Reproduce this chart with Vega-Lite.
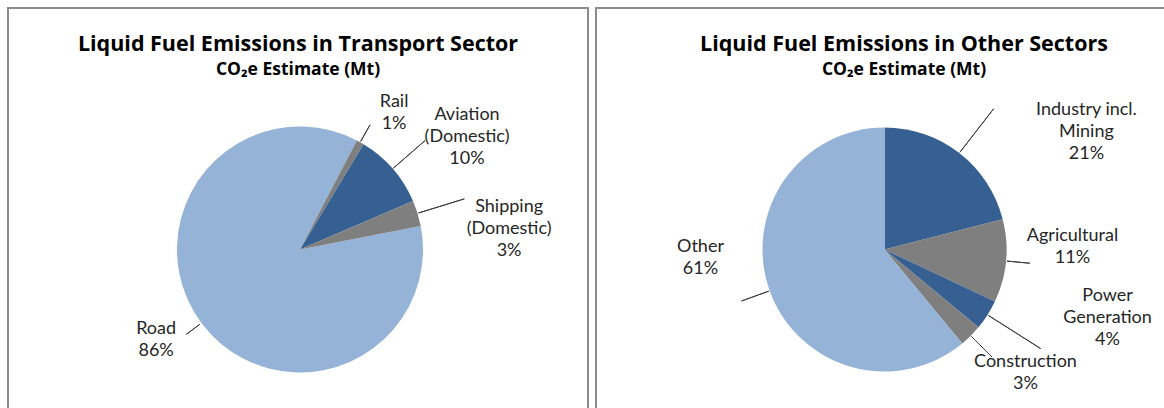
{
  "$schema": "https://vega.github.io/schema/vega-lite/v6.json",
  "padding": {"left": 7, "top": 7, "right": 0, "bottom": 0},
  "autosize": {"type": "pad"},
  "background": "white",
  "spacing": 6,
  "config": {
    "font": "Lato",
    "view": {"stroke": null},
    "text": {"font": "Lato", "fontSize": 18, "color": "#262626", "lineHeight": 22, "lineBreak": "\n", "align": "center", "baseline": "middle"}
  },
  "datasets": {
    "transport": [
      {"idx": 1, "sector": "Road", "value": 85.7, "label": "Road\n86%"},
      {"idx": 2, "sector": "Rail", "value": 1.0, "label": "Rail\n1%"},
      {"idx": 3, "sector": "Aviation (Domestic)", "value": 9.9, "label": "Aviation\n(Domestic)\n10%"},
      {"idx": 4, "sector": "Shipping (Domestic)", "value": 3.4, "label": "Shipping\n(Domestic)\n3%"}
    ],
    "other": [
      {"idx": 1, "sector": "Industry incl. Mining", "value": 21, "label": "Industry incl.\nMining\n21%"},
      {"idx": 2, "sector": "Agricultural", "value": 11, "label": "Agricultural\n11%"},
      {"idx": 3, "sector": "Power Generation", "value": 4, "label": "Power\nGeneration\n4%"},
      {"idx": 4, "sector": "Construction", "value": 3, "label": "Construction\n3%"},
      {"idx": 5, "sector": "Other", "value": 61, "label": "Other\n61%"}
    ]
  },
  "resolve": {"scale": {"theta": "independent", "color": "independent"}},
  "hconcat": [
    {
      "width": 580,
      "height": 400,
      "view": {"stroke": "#8c8c8c", "strokeWidth": 2, "strokeDash": [980, 580, 420]},
      "title": {
        "text": "Liquid Fuel Emissions in Transport Sector",
        "subtitle": "CO₂e Estimate (Mt)",
        "offset": -70,
        "anchor": "middle",
        "font": "Open Sans", "fontSize": 21.5, "fontWeight": "bold", "color": "#000000",
        "subtitleFont": "Open Sans", "subtitleFontSize": 17.5, "subtitleFontWeight": "bold", "subtitleColor": "#000000",
        "subtitlePadding": 5
      },
      "data": {"name": "transport"},
      "resolve": {"scale": {"theta": "independent"}},
      "encoding": {
        "theta": {"field": "value", "type": "quantitative", "stack": true, "scale": {"range": [1.3788, 7.6620]}},
        "order": {"field": "idx", "type": "quantitative"}
      },
      "layer": [
        {
          "mark": {"type": "arc", "radius": 123, "xOffset": 2, "yOffset": 41.5},
          "encoding": {
            "color": {"field": "sector", "type": "nominal", "legend": null,
              "scale": {"domain": ["Road", "Rail", "Aviation (Domestic)", "Shipping (Domestic)"], "range": ["#95B3D7", "#7F7F7F", "#376092", "#7F7F7F"]}}
          }
        },
        {
          "mark": {"type": "arc", "clip": true, "radius": 143, "radius2": 124, "padAngle": 3.2, "fill": null, "fillOpacity": 0, "stroke": "#404040", "strokeWidth": 1, "xOffset": 2, "yOffset": 41.5},
          "encoding": {"strokeOpacity": {"condition": {"test": "datum.sector === 'Rail'", "value": 1}, "value": 0}}
        },
        {
          "mark": {"type": "arc", "clip": true, "radius": 166, "radius2": 124, "padAngle": 3.2, "fill": null, "fillOpacity": 0, "stroke": "#404040", "strokeWidth": 1, "xOffset": 2, "yOffset": 41.5},
          "encoding": {"strokeOpacity": {"condition": {"test": "datum.sector === 'Aviation (Domestic)'", "value": 1}, "value": 0}}
        },
        {
          "mark": {"type": "arc", "clip": true, "radius": 172, "radius2": 124, "padAngle": 3.2, "fill": null, "fillOpacity": 0, "stroke": "#404040", "strokeWidth": 1, "xOffset": 2, "yOffset": 41.5},
          "encoding": {"strokeOpacity": {"condition": {"test": "datum.sector === 'Shipping (Domestic)'", "value": 1}, "value": 0}}
        },
        {
          "mark": {"type": "arc", "clip": true, "radius": 142, "radius2": 125, "padAngle": 3.2, "fill": null, "fillOpacity": 0, "stroke": "#404040", "strokeWidth": 1, "xOffset": 2, "yOffset": 41.5},
          "encoding": {
            "theta": {"field": "value", "type": "quantitative", "stack": true, "scale": {"domain": [0, 200], "range": [2.7249, 9.0081]}},
            "strokeOpacity": {"condition": {"test": "datum.sector === 'Road'", "value": 1}, "value": 0}
          }
        },
        {
          "mark": {"type": "text", "clip": true, "radius": 166, "dx": 12.8, "dy": -3.2, "xOffset": 2, "yOffset": 41.5},
          "encoding": {"text": {"condition": {"test": "datum.sector === 'Rail'", "field": "label"}, "value": ""}}
        },
        {
          "mark": {"type": "text", "clip": true, "radius": 201.6, "dx": 15, "dy": -2.5, "xOffset": 2, "yOffset": 41.5},
          "encoding": {"text": {"condition": {"test": "datum.sector === 'Aviation (Domestic)'", "field": "label"}, "value": ""}}
        },
        {
          "mark": {"type": "text", "clip": true, "radius": 210, "dx": 8.4, "dy": 19.2, "xOffset": 2, "yOffset": 41.5},
          "encoding": {"text": {"condition": {"test": "datum.sector === 'Shipping (Domestic)'", "field": "label"}, "value": ""}}
        },
        {
          "mark": {"type": "text", "clip": true, "radius": 169.8, "dx": -7.8, "dy": -22.5, "xOffset": 2, "yOffset": 41.5},
          "encoding": {"text": {"condition": {"test": "datum.sector === 'Road'", "field": "label"}, "value": ""}}
        }
      ]
    },
    {
      "width": 570,
      "height": 400,
      "view": {"stroke": "#8c8c8c", "strokeWidth": 2, "strokeDash": [570, 970, 420]},
      "title": {
        "text": "Liquid Fuel Emissions in Other Sectors",
        "subtitle": "CO₂e Estimate (Mt)",
        "offset": -70,
        "anchor": "middle",
        "dx": 23,
        "font": "Open Sans", "fontSize": 21.5, "fontWeight": "bold", "color": "#000000",
        "subtitleFont": "Open Sans", "subtitleFontSize": 17.5, "subtitleFontWeight": "bold", "subtitleColor": "#000000",
        "subtitlePadding": 5
      },
      "data": {"name": "other"},
      "resolve": {"scale": {"theta": "independent"}},
      "encoding": {
        "theta": {"field": "value", "type": "quantitative", "stack": true, "scale": {"range": [0, 6.2832]}},
        "order": {"field": "idx", "type": "quantitative"}
      },
      "layer": [
        {
          "mark": {"type": "arc", "radius": 122, "xOffset": 3.5, "yOffset": 41.5},
          "encoding": {
            "color": {"field": "sector", "type": "nominal", "legend": null,
              "scale": {"domain": ["Industry incl. Mining", "Agricultural", "Power Generation", "Construction", "Other"], "range": ["#376092", "#7F7F7F", "#376092", "#7F7F7F", "#95B3D7"]}}
          }
        },
        {
          "mark": {"type": "arc", "clip": true, "radius": 178, "radius2": 123, "padAngle": 3.2, "fill": null, "fillOpacity": 0, "stroke": "#404040", "strokeWidth": 1, "xOffset": 3.5, "yOffset": 41.5},
          "encoding": {"strokeOpacity": {"condition": {"test": "datum.sector === 'Industry incl. Mining'", "value": 1}, "value": 0}}
        },
        {
          "mark": {"type": "arc", "clip": true, "radius": 146, "radius2": 123, "padAngle": 3.2, "fill": null, "fillOpacity": 0, "stroke": "#404040", "strokeWidth": 1, "xOffset": 3.5, "yOffset": 41.5},
          "encoding": {"strokeOpacity": {"condition": {"test": "datum.sector === 'Agricultural'", "value": 1}, "value": 0}}
        },
        {
          "mark": {"type": "arc", "clip": true, "radius": 185, "radius2": 123, "padAngle": 3.2, "fill": null, "fillOpacity": 0, "stroke": "#404040", "strokeWidth": 1, "xOffset": 3.5, "yOffset": 41.5},
          "encoding": {"strokeOpacity": {"condition": {"test": "datum.sector === 'Power Generation'", "value": 1}, "value": 0}}
        },
        {
          "mark": {"type": "arc", "clip": true, "radius": 152, "radius2": 123, "padAngle": 3.2, "fill": null, "fillOpacity": 0, "stroke": "#404040", "strokeWidth": 1, "xOffset": 3.5, "yOffset": 41.5},
          "encoding": {"strokeOpacity": {"condition": {"test": "datum.sector === 'Construction'", "value": 1}, "value": 0}}
        },
        {
          "mark": {"type": "arc", "clip": true, "radius": 152, "radius2": 123, "padAngle": 3.2, "fill": null, "fillOpacity": 0, "stroke": "#404040", "strokeWidth": 1, "xOffset": 3.5, "yOffset": 41.5},
          "encoding": {
            "theta": {"field": "value", "type": "quantitative", "stack": true, "scale": {"domain": [0, 200], "range": [2.1834, 8.4666]}},
            "strokeOpacity": {"condition": {"test": "datum.sector === 'Other'", "value": 1}, "value": 0}
          }
        },
        {
          "mark": {"type": "text", "clip": true, "radius": 233.4, "dx": 58.9, "dy": 45.4, "xOffset": 3.5, "yOffset": 41.5},
          "encoding": {"text": {"condition": {"test": "datum.sector === 'Industry incl. Mining'", "field": "label"}, "value": ""}}
        },
        {
          "mark": {"type": "text", "clip": true, "radius": 188, "dx": 0.8, "dy": -30.7, "xOffset": 3.5, "yOffset": 41.5},
          "encoding": {"text": {"condition": {"test": "datum.sector === 'Agricultural'", "field": "label"}, "value": ""}}
        },
        {
          "mark": {"type": "text", "clip": true, "radius": 233, "dx": 26.3, "dy": -78.8, "xOffset": 3.5, "yOffset": 41.5},
          "encoding": {"text": {"condition": {"test": "datum.sector === 'Power Generation'", "field": "label"}, "value": ""}}
        },
        {
          "mark": {"type": "text", "clip": true, "radius": 187.8, "dx": 8.2, "dy": -19.8, "xOffset": 3.5, "yOffset": 41.5},
          "encoding": {"text": {"condition": {"test": "datum.sector === 'Construction'", "field": "label"}, "value": ""}}
        },
        {
          "mark": {"type": "text", "clip": true, "radius": 184.2, "dx": -10.7, "dy": -64.4, "xOffset": 3.5, "yOffset": 41.5},
          "encoding": {"text": {"condition": {"test": "datum.sector === 'Other'", "field": "label"}, "value": ""}}
        }
      ]
    }
  ]
}
